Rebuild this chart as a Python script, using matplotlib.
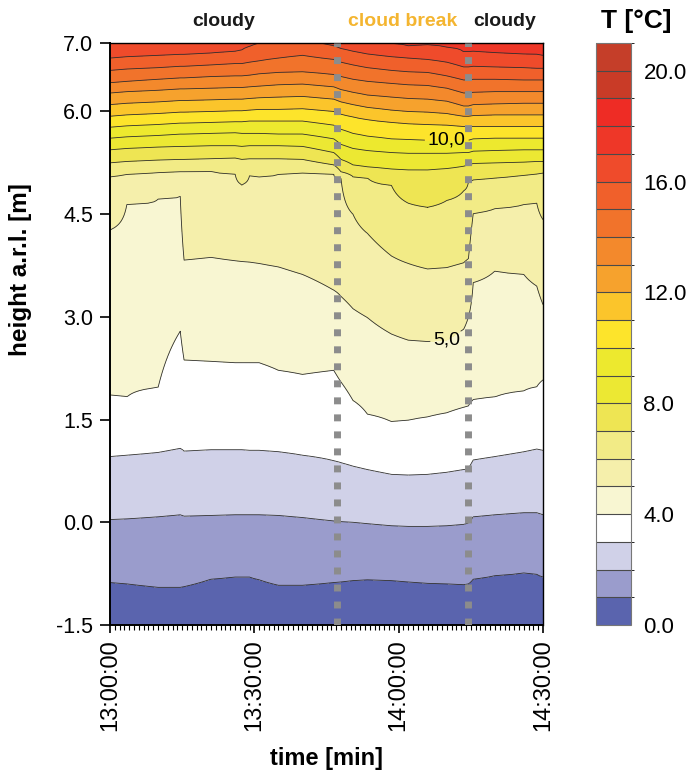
import numpy as np
import matplotlib.pyplot as plt
from matplotlib.colors import ListedColormap, BoundaryNorm
from matplotlib.ticker import MultipleLocator

plt.rcParams['font.family'] = ['Liberation Sans', 'DejaVu Sans']

# time in minutes after 13:00:00
t_min = [0, 3.5, 10, 14.6, 15.4, 21, 26, 27.4, 29, 31, 35, 40, 46.5, 48, 50.5,
         53.5, 58.5, 62, 66, 70, 73.5, 74.5, 75.5, 80, 86, 88.7, 90]

# height [m] of each isotherm (1 .. 17 degC) at the times above
h_01 = [-0.88, -0.90, -0.95, -0.95, -0.94, -0.83, -0.80, -0.80, -0.80, -0.84, -0.92, -0.92, -0.88, -0.87,
        -0.85, -0.84, -0.85, -0.87, -0.89, -0.90, -0.91, -0.90, -0.83, -0.78, -0.74, -0.76, -0.80]
h_02 = [0.04, 0.05, 0.08, 0.11, 0.09, 0.10, 0.11, 0.11, 0.11, 0.11, 0.10, 0.07, 0.02, 0.01,
        0.00, -0.02, -0.05, -0.06, -0.06, -0.05, -0.03, -0.01, 0.08, 0.11, 0.14, 0.14, 0.11]
h_03 = [0.96, 0.98, 1.02, 1.08, 1.04, 1.06, 1.06, 1.06, 1.05, 1.05, 1.03, 0.98, 0.90, 0.87,
        0.82, 0.77, 0.70, 0.69, 0.70, 0.73, 0.77, 0.78, 0.91, 0.96, 1.03, 1.07, 1.05]
h_04 = [1.86, 1.83, 1.97, 2.79, 2.37, 2.35, 2.33, 2.33, 2.33, 2.33, 2.22, 2.16, 2.22, 2.05,
        1.78, 1.58, 1.47, 1.49, 1.54, 1.60, 1.68, 1.70, 1.79, 1.83, 1.92, 1.98, 2.08]
h_05 = [4.27, 4.64, 4.72, 4.76, 3.83, 3.87, 3.82, 3.81, 3.80, 3.78, 3.73, 3.62, 3.39, 3.30,
        3.12, 2.99, 2.75, 2.66, 2.64, 2.66, 2.82, 3.00, 3.50, 3.67, 3.62, 3.45, 3.18]
h_06 = [5.05, 5.08, 5.11, 5.12, 5.12, 5.13, 5.09, 4.93, 5.06, 5.05, 5.08, 5.10, 5.09, 5.03,
        4.50, 4.22, 3.89, 3.78, 3.70, 3.72, 3.79, 3.85, 4.51, 4.58, 4.64, 4.66, 4.42]
h_07 = [5.25, 5.27, 5.29, 5.30, 5.30, 5.31, 5.32, 5.30, 5.31, 5.31, 5.31, 5.30, 5.22, 5.12,
        5.05, 5.03, 4.92, 4.66, 4.60, 4.70, 4.84, 4.97, 5.00, 5.03, 5.07, 5.09, 5.10]
h_08 = [5.44, 5.46, 5.48, 5.49, 5.49, 5.50, 5.50, 5.49, 5.50, 5.50, 5.50, 5.49, 5.40, 5.30,
        5.22, 5.19, 5.16, 5.15, 5.15, 5.17, 5.20, 5.22, 5.24, 5.25, 5.26, 5.27, 5.27]
h_09 = [5.61, 5.63, 5.65, 5.67, 5.67, 5.68, 5.69, 5.68, 5.68, 5.68, 5.67, 5.67, 5.60, 5.52,
        5.46, 5.43, 5.40, 5.39, 5.39, 5.39, 5.40, 5.40, 5.42, 5.43, 5.44, 5.44, 5.44]
h_10 = [5.77, 5.79, 5.81, 5.83, 5.83, 5.84, 5.85, 5.85, 5.86, 5.86, 5.86, 5.86, 5.80, 5.74,
        5.68, 5.64, 5.60, 5.59, 5.58, 5.58, 5.57, 5.58, 5.60, 5.61, 5.61, 5.61, 5.61]
h_11 = [5.93, 5.95, 5.97, 5.99, 5.99, 6.00, 6.01, 6.01, 6.02, 6.03, 6.03, 6.04, 6.00, 5.96,
        5.92, 5.88, 5.84, 5.82, 5.81, 5.80, 5.78, 5.78, 5.78, 5.78, 5.78, 5.78, 5.78]
h_12 = [6.10, 6.12, 6.14, 6.16, 6.16, 6.17, 6.18, 6.18, 6.19, 6.20, 6.21, 6.22, 6.18, 6.14,
        6.10, 6.06, 6.02, 6.00, 5.99, 5.97, 5.93, 5.93, 5.94, 5.95, 5.95, 5.95, 5.95]
h_13 = [6.27, 6.29, 6.31, 6.33, 6.33, 6.34, 6.35, 6.35, 6.36, 6.37, 6.39, 6.40, 6.36, 6.32,
        6.28, 6.24, 6.21, 6.19, 6.18, 6.15, 6.08, 6.08, 6.10, 6.11, 6.12, 6.12, 6.12]
h_14 = [6.42, 6.44, 6.47, 6.49, 6.49, 6.51, 6.52, 6.52, 6.53, 6.55, 6.57, 6.58, 6.54, 6.51,
        6.47, 6.44, 6.41, 6.39, 6.38, 6.34, 6.27, 6.27, 6.28, 6.29, 6.29, 6.29, 6.29]
h_15 = [6.60, 6.62, 6.64, 6.66, 6.66, 6.68, 6.70, 6.70, 6.72, 6.74, 6.78, 6.82, 6.76, 6.72,
        6.68, 6.64, 6.60, 6.58, 6.57, 6.52, 6.46, 6.46, 6.47, 6.47, 6.46, 6.46, 6.46]
h_16 = [6.78, 6.80, 6.82, 6.83, 6.83, 6.85, 6.88, 6.90, 6.95, 7.00, 7.05, 7.05, 6.96, 6.92,
        6.88, 6.84, 6.80, 6.78, 6.76, 6.72, 6.65, 6.65, 6.66, 6.65, 6.64, 6.63, 6.63]
h_17 = [7.30, 7.30, 7.30, 7.30, 7.30, 7.30, 7.30, 7.30, 7.30, 7.30, 7.30, 7.30, 7.20, 7.15,
        7.10, 7.05, 6.99, 6.96, 6.97, 6.94, 6.87, 6.87, 6.88, 6.86, 6.84, 6.83, 6.82]

iso_temps = np.arange(1, 18)

band_colors = ['#5a64ae', '#9a9ccc', '#d0d1e8', '#ffffff', '#f8f6d2', '#f5efab', '#f2eb86',
               '#eee553', '#ece833', '#ede92e', '#fde42b', '#fbc52b', '#f6a22d', '#f3892c',
               '#f1732b', '#f0602b', '#ef4b2b', '#ee3728', '#ee2c25', '#c93b27', '#c53e29']
levels = np.arange(0, 22)

cloud_break = [47.2, 74.5]

# build the temperature field from the isotherm heights
heights = np.linspace(-1.5, 7.0, 426)
iso = np.array([h_01, h_02, h_03, h_04, h_05, h_06, h_07, h_08, h_09, h_10,
                h_11, h_12, h_13, h_14, h_15, h_16, h_17])
Z = np.empty((heights.size, len(t_min)))
for j in range(len(t_min)):
    hk = np.concatenate(([-1.6], iso[:, j], [7.5]))
    tk = np.concatenate(([0.4], iso_temps, [17.8]))
    Z[:, j] = np.interp(heights, hk, tk)

cmap = ListedColormap(band_colors)
norm = BoundaryNorm(levels, cmap.N)

fig = plt.figure(figsize=(6.92, 7.73), dpi=100)
ax = fig.add_axes([110 / 692, 148 / 773, 433 / 692, 582 / 773])

cf = ax.contourf(t_min, heights, Z, levels=levels, cmap=cmap, norm=norm)
plain = [v for v in range(1, 21) if v not in (5, 10)]
ax.contour(t_min, heights, Z, levels=plain, colors='#2e2e2e', linewidths=0.6)
cs = ax.contour(t_min, heights, Z, levels=[5, 10], colors='#2e2e2e', linewidths=0.6)
fmt = lambda v: f"{v:.1f}".replace('.', ',')
labels = ax.clabel(cs, manual=[(70, 2.66), (70, 5.58)], fmt=fmt,
                   fontsize=14, colors='k', inline=True, inline_spacing=3)
for lab in labels:
    lab.set_rotation(0)

for tb in cloud_break:
    ax.axvline(tb, color='#8c8c8c', lw=5, linestyle=(0, (1, 1.45)), zorder=5)

ax.set_xlim(0, 90)
ax.set_ylim(-1.5, 7.0)
ax.set_yticks([-1.5, 0.0, 1.5, 3.0, 4.5, 6.0, 7.0])
ax.set_yticklabels(['-1.5', '0.0', '1.5', '3.0', '4.5', '6.0', '7.0'])
ax.set_xticks([0, 30, 60, 90])
ax.set_xticklabels(['13:00:00', '13:30:00', '14:00:00', '14:30:00'], rotation=90)
ax.xaxis.set_minor_locator(MultipleLocator(1))
ax.tick_params(axis='y', which='major', length=7, width=1.2, labelsize=15.5, pad=5)
ax.tick_params(axis='x', which='major', length=6, width=1.2, labelsize=17, pad=4)
ax.tick_params(axis='x', which='minor', length=3.5, width=0.8)
for s in ['left', 'bottom']:
    ax.spines[s].set_linewidth(1.4)
for s in ['top', 'right']:
    ax.spines[s].set_linewidth(1.0)

ax.set_xlabel('time [min]', fontsize=17, fontweight='bold', va='top')
ax.xaxis.set_label_coords(0.5, -0.21)
ax.set_ylabel('height a.r.l. [m]', fontsize=17.5, fontweight='bold')
ax.yaxis.set_label_coords(-0.18, 0.61)

trans = ax.get_xaxis_transform()
ax.text(23.7, 1.029, 'cloudy', transform=trans, ha='center', va='baseline',
        fontsize=14, fontweight='bold', color='#1a1a1a')
ax.text(60.9, 1.029, 'cloud break', transform=trans, ha='center', va='baseline',
        fontsize=14, fontweight='bold', color='#f4b530')
ax.text(82.0, 1.029, 'cloudy', transform=trans, ha='center', va='baseline',
        fontsize=14, fontweight='bold', color='#1a1a1a')

cax = fig.add_axes([596 / 692, 148 / 773, 35 / 692, 582 / 773])
cb = fig.colorbar(cf, cax=cax, ticks=[0, 4, 8, 12, 16, 20], drawedges=True)
cb.dividers.set_color('#4a4a4a')
cb.dividers.set_linewidth(0.8)
cb.outline.set_edgecolor('#777777')
cb.outline.set_linewidth(0.8)
cb.ax.set_yticklabels(['0.0', '4.0', '8.0', '12.0', '16.0', '20.0'])
cb.ax.tick_params(length=0, labelsize=16, pad=9)
fig.text(636 / 692, 1 - 21 / 773, 'T [°C]', ha='center', va='center',
         fontsize=19, fontweight='bold')

fig.savefig('out.png', dpi=100)
